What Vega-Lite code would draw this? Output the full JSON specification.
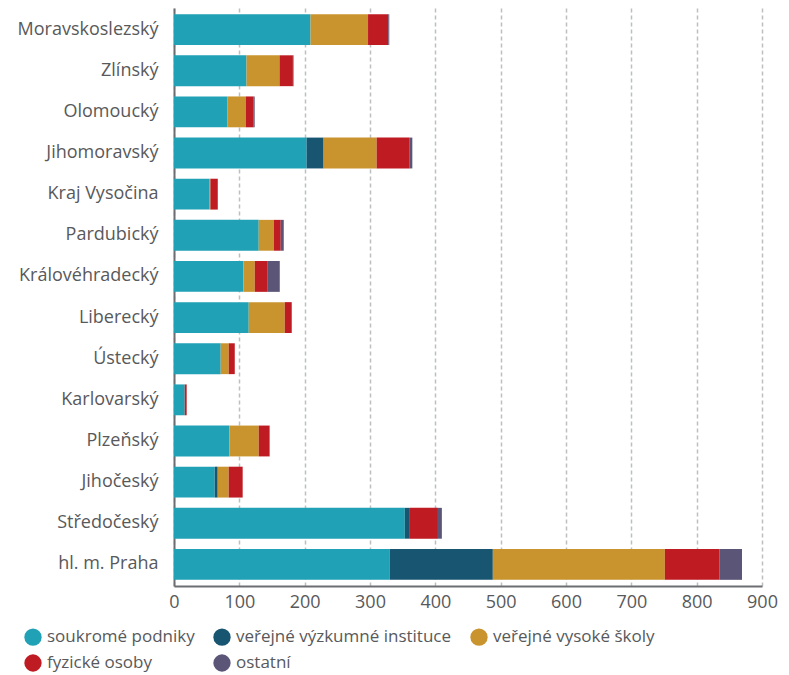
{
  "$schema": "https://vega.github.io/schema/vega-lite/v6.json",
  "width": 588,
  "height": 578,
  "autosize": "none",
  "padding": {"left": 174, "top": 8, "right": 27, "bottom": 89},
  "background": "white",
  "config": {
    "view": {"stroke": null},
    "font": "Open Sans",
    "axis": {"labelFont": "Open Sans", "labelColor": "#58595b"}
  },
  "data": {
    "values": [
      {"kraj": "Moravskoslezský", "sektor": "soukromé podniky", "v": 209},
      {"kraj": "Moravskoslezský", "sektor": "veřejné vysoké školy", "v": 88},
      {"kraj": "Moravskoslezský", "sektor": "fyzické osoby", "v": 31},
      {"kraj": "Moravskoslezský", "sektor": "ostatní", "v": 1.5},
      {"kraj": "Zlínský", "sektor": "soukromé podniky", "v": 111},
      {"kraj": "Zlínský", "sektor": "veřejné vysoké školy", "v": 50.5},
      {"kraj": "Zlínský", "sektor": "fyzické osoby", "v": 20.5},
      {"kraj": "Zlínský", "sektor": "ostatní", "v": 1},
      {"kraj": "Olomoucký", "sektor": "soukromé podniky", "v": 82},
      {"kraj": "Olomoucký", "sektor": "veřejné vysoké školy", "v": 27.8},
      {"kraj": "Olomoucký", "sektor": "fyzické osoby", "v": 12.2},
      {"kraj": "Olomoucký", "sektor": "ostatní", "v": 1.5},
      {"kraj": "Jihomoravský", "sektor": "soukromé podniky", "v": 203},
      {"kraj": "Jihomoravský", "sektor": "veřejné výzkumné instituce", "v": 26},
      {"kraj": "Jihomoravský", "sektor": "veřejné vysoké školy", "v": 81.2},
      {"kraj": "Jihomoravský", "sektor": "fyzické osoby", "v": 50.6},
      {"kraj": "Jihomoravský", "sektor": "ostatní", "v": 4},
      {"kraj": "Kraj Vysočina", "sektor": "soukromé podniky", "v": 54.6},
      {"kraj": "Kraj Vysočina", "sektor": "veřejné vysoké školy", "v": 1.1},
      {"kraj": "Kraj Vysočina", "sektor": "fyzické osoby", "v": 11.3},
      {"kraj": "Pardubický", "sektor": "soukromé podniky", "v": 129.7},
      {"kraj": "Pardubický", "sektor": "veřejné vysoké školy", "v": 23},
      {"kraj": "Pardubický", "sektor": "fyzické osoby", "v": 10.7},
      {"kraj": "Pardubický", "sektor": "ostatní", "v": 4.6},
      {"kraj": "Královéhradecký", "sektor": "soukromé podniky", "v": 106.3},
      {"kraj": "Královéhradecký", "sektor": "veřejné vysoké školy", "v": 17.3},
      {"kraj": "Královéhradecký", "sektor": "fyzické osoby", "v": 19.9},
      {"kraj": "Královéhradecký", "sektor": "ostatní", "v": 18.4},
      {"kraj": "Liberecký", "sektor": "soukromé podniky", "v": 114.4},
      {"kraj": "Liberecký", "sektor": "veřejné vysoké školy", "v": 55.1},
      {"kraj": "Liberecký", "sektor": "fyzické osoby", "v": 10.7},
      {"kraj": "Ústecký", "sektor": "soukromé podniky", "v": 71.5},
      {"kraj": "Ústecký", "sektor": "veřejné vysoké školy", "v": 12.3},
      {"kraj": "Ústecký", "sektor": "fyzické osoby", "v": 9.2},
      {"kraj": "Karlovarský", "sektor": "soukromé podniky", "v": 16.4},
      {"kraj": "Karlovarský", "sektor": "fyzické osoby", "v": 3},
      {"kraj": "Plzeňský", "sektor": "soukromé podniky", "v": 84.8},
      {"kraj": "Plzeňský", "sektor": "veřejné vysoké školy", "v": 44.9},
      {"kraj": "Plzeňský", "sektor": "fyzické osoby", "v": 15.8},
      {"kraj": "Plzeňský", "sektor": "ostatní", "v": 1},
      {"kraj": "Jihočeský", "sektor": "soukromé podniky", "v": 62.3},
      {"kraj": "Jihočeský", "sektor": "veřejné výzkumné instituce", "v": 4.6},
      {"kraj": "Jihočeský", "sektor": "veřejné vysoké školy", "v": 16.8},
      {"kraj": "Jihočeský", "sektor": "fyzické osoby", "v": 21.4},
      {"kraj": "Středočeský", "sektor": "soukromé podniky", "v": 353.3},
      {"kraj": "Středočeský", "sektor": "veřejné výzkumné instituce", "v": 7.7},
      {"kraj": "Středočeský", "sektor": "fyzické osoby", "v": 43},
      {"kraj": "Středočeský", "sektor": "ostatní", "v": 6},
      {"kraj": "hl. m. Praha", "sektor": "soukromé podniky", "v": 330.3},
      {"kraj": "hl. m. Praha", "sektor": "veřejné výzkumné instituce", "v": 157.7},
      {"kraj": "hl. m. Praha", "sektor": "veřejné vysoké školy", "v": 263.3},
      {"kraj": "hl. m. Praha", "sektor": "fyzické osoby", "v": 83.9},
      {"kraj": "hl. m. Praha", "sektor": "ostatní", "v": 34.2}
    ]
  },
  "transform": [
    {"calculate": "indexof(['soukromé podniky', 'veřejné výzkumné instituce', 'veřejné vysoké školy', 'fyzické osoby', 'ostatní'], datum.sektor)", "as": "poradi"}
  ],
  "mark": {"type": "bar"},
  "encoding": {
    "y": {
      "field": "kraj",
      "type": "nominal",
      "sort": ["Moravskoslezský", "Zlínský", "Olomoucký", "Jihomoravský", "Kraj Vysočina", "Pardubický", "Královéhradecký", "Liberecký", "Ústecký", "Karlovarský", "Plzeňský", "Jihočeský", "Středočeský", "hl. m. Praha"],
      "scale": {"paddingInner": 0.25, "paddingOuter": 0.15},
      "axis": {
        "title": null,
        "ticks": false,
        "labelFontSize": 18,
        "labelPadding": 16,
        "labelLimit": 0,
        "domainColor": "#6d6e71",
        "domainWidth": 2,
        "grid": false
      }
    },
    "x": {
      "field": "v",
      "type": "quantitative",
      "stack": "zero",
      "scale": {"domain": [0, 900], "nice": false},
      "axis": {
        "title": null,
        "values": [0, 100, 200, 300, 400, 500, 600, 700, 800, 900],
        "ticks": false,
        "labelFontSize": 18,
        "labelPadding": 7,
        "labelFlush": false,
        "domainColor": "#6d6e71",
        "domainWidth": 2,
        "grid": true,
        "gridColor": "#bcbec0",
        "gridDash": [4, 3],
        "gridWidth": 1.5
      }
    },
    "color": {
      "field": "sektor",
      "type": "nominal",
      "sort": ["soukromé podniky", "veřejné výzkumné instituce", "veřejné vysoké školy", "fyzické osoby", "ostatní"],
      "scale": {
        "domain": ["soukromé podniky", "veřejné výzkumné instituce", "veřejné vysoké školy", "fyzické osoby", "ostatní"],
        "range": ["#21a1b5", "#185570", "#c9942e", "#be1b22", "#5b5677"]
      },
      "legend": {
        "title": null,
        "orient": "none",
        "legendX": -150,
        "legendY": 620,
        "direction": "horizontal",
        "columns": 3,
        "columnPadding": 18,
        "rowPadding": 8,
        "symbolType": "circle",
        "symbolSize": 300,
        "symbolStrokeWidth": 0,
        "symbolOpacity": 1,
        "labelFontSize": 17,
        "labelColor": "#58595b",
        "labelOffset": 5,
        "labelLimit": 0,
        "labelFont": "Open Sans"
      }
    },
    "order": {"field": "poradi", "type": "quantitative", "sort": "ascending"}
  }
}
